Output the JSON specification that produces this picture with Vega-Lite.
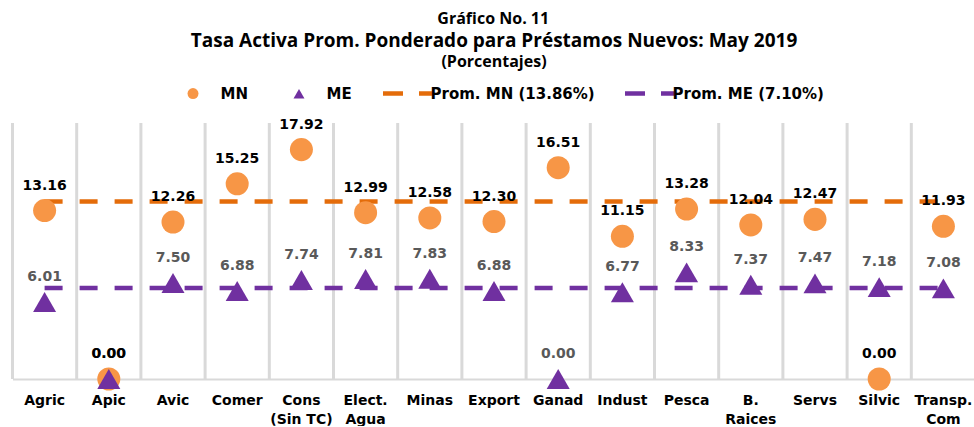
{
  "$schema": "https://vega.github.io/schema/vega-lite/v6.json",
  "background": "white",
  "padding": {"left": 10.5, "top": 10, "right": 0, "bottom": 0},
  "config": {
    "view": {"stroke": null},
    "concat": {"spacing": 0},
    "legend": {"padding": 0}
  },
  "title": {
    "text": "Gráfico No. 11",
    "font": "Open Sans",
    "fontSize": 16,
    "fontWeight": "bold",
    "color": "#000000",
    "anchor": "middle",
    "offset": 5
  },
  "datasets": {
    "puntos": [
      {"sector": "Agric", "serie": "MN", "valor": 13.16},
      {"sector": "Apic", "serie": "MN", "valor": 0.0},
      {"sector": "Avic", "serie": "MN", "valor": 12.26},
      {"sector": "Comer", "serie": "MN", "valor": 15.25},
      {"sector": "Cons (Sin TC)", "serie": "MN", "valor": 17.92},
      {"sector": "Elect. Agua", "serie": "MN", "valor": 12.99},
      {"sector": "Minas", "serie": "MN", "valor": 12.58},
      {"sector": "Export", "serie": "MN", "valor": 12.3},
      {"sector": "Ganad", "serie": "MN", "valor": 16.51},
      {"sector": "Indust", "serie": "MN", "valor": 11.15},
      {"sector": "Pesca", "serie": "MN", "valor": 13.28},
      {"sector": "B. Raices", "serie": "MN", "valor": 12.04},
      {"sector": "Servs", "serie": "MN", "valor": 12.47},
      {"sector": "Silvic", "serie": "MN", "valor": 0.0},
      {"sector": "Transp. Com", "serie": "MN", "valor": 11.93},
      {"sector": "Agric", "serie": "ME", "valor": 6.01},
      {"sector": "Apic", "serie": "ME", "valor": 0.0},
      {"sector": "Avic", "serie": "ME", "valor": 7.5},
      {"sector": "Comer", "serie": "ME", "valor": 6.88},
      {"sector": "Cons (Sin TC)", "serie": "ME", "valor": 7.74},
      {"sector": "Elect. Agua", "serie": "ME", "valor": 7.81},
      {"sector": "Minas", "serie": "ME", "valor": 7.83},
      {"sector": "Export", "serie": "ME", "valor": 6.88},
      {"sector": "Ganad", "serie": "ME", "valor": 0.0},
      {"sector": "Indust", "serie": "ME", "valor": 6.77},
      {"sector": "Pesca", "serie": "ME", "valor": 8.33},
      {"sector": "B. Raices", "serie": "ME", "valor": 7.37},
      {"sector": "Servs", "serie": "ME", "valor": 7.47},
      {"sector": "Silvic", "serie": "ME", "valor": 7.18},
      {"sector": "Transp. Com", "serie": "ME", "valor": 7.08}
    ],
    "promedios": [
      {"sector": "Agric", "serie": "Prom. MN (13.86%)", "valor": 13.86},
      {"sector": "Apic", "serie": "Prom. MN (13.86%)", "valor": 13.86},
      {"sector": "Avic", "serie": "Prom. MN (13.86%)", "valor": 13.86},
      {"sector": "Comer", "serie": "Prom. MN (13.86%)", "valor": 13.86},
      {"sector": "Cons (Sin TC)", "serie": "Prom. MN (13.86%)", "valor": 13.86},
      {"sector": "Elect. Agua", "serie": "Prom. MN (13.86%)", "valor": 13.86},
      {"sector": "Minas", "serie": "Prom. MN (13.86%)", "valor": 13.86},
      {"sector": "Export", "serie": "Prom. MN (13.86%)", "valor": 13.86},
      {"sector": "Ganad", "serie": "Prom. MN (13.86%)", "valor": 13.86},
      {"sector": "Indust", "serie": "Prom. MN (13.86%)", "valor": 13.86},
      {"sector": "Pesca", "serie": "Prom. MN (13.86%)", "valor": 13.86},
      {"sector": "B. Raices", "serie": "Prom. MN (13.86%)", "valor": 13.86},
      {"sector": "Servs", "serie": "Prom. MN (13.86%)", "valor": 13.86},
      {"sector": "Silvic", "serie": "Prom. MN (13.86%)", "valor": 13.86},
      {"sector": "Transp. Com", "serie": "Prom. MN (13.86%)", "valor": 13.86},
      {"sector": "Agric", "serie": "Prom. ME (7.10%)", "valor": 7.1},
      {"sector": "Apic", "serie": "Prom. ME (7.10%)", "valor": 7.1},
      {"sector": "Avic", "serie": "Prom. ME (7.10%)", "valor": 7.1},
      {"sector": "Comer", "serie": "Prom. ME (7.10%)", "valor": 7.1},
      {"sector": "Cons (Sin TC)", "serie": "Prom. ME (7.10%)", "valor": 7.1},
      {"sector": "Elect. Agua", "serie": "Prom. ME (7.10%)", "valor": 7.1},
      {"sector": "Minas", "serie": "Prom. ME (7.10%)", "valor": 7.1},
      {"sector": "Export", "serie": "Prom. ME (7.10%)", "valor": 7.1},
      {"sector": "Ganad", "serie": "Prom. ME (7.10%)", "valor": 7.1},
      {"sector": "Indust", "serie": "Prom. ME (7.10%)", "valor": 7.1},
      {"sector": "Pesca", "serie": "Prom. ME (7.10%)", "valor": 7.1},
      {"sector": "B. Raices", "serie": "Prom. ME (7.10%)", "valor": 7.1},
      {"sector": "Servs", "serie": "Prom. ME (7.10%)", "valor": 7.1},
      {"sector": "Silvic", "serie": "Prom. ME (7.10%)", "valor": 7.1},
      {"sector": "Transp. Com", "serie": "Prom. ME (7.10%)", "valor": 7.1}
    ]
  },
  "vconcat": [
    {
      "width": 963,
      "height": 256,
      "title": {
        "text": "Tasa Activa Prom. Ponderado para Préstamos Nuevos: May 2019",
        "subtitle": "(Porcentajes)",
        "font": "Open Sans",
        "fontSize": 19,
        "fontWeight": "bold",
        "color": "#000000",
        "subtitleFont": "Open Sans",
        "subtitleFontSize": 16,
        "subtitleFontWeight": "bold",
        "subtitleColor": "#000000",
        "subtitlePadding": 3,
        "anchor": "middle",
        "offset": 48
      },
      "encoding": {
        "x": {
          "field": "sector",
          "type": "nominal",
          "sort": ["Agric", "Apic", "Avic", "Comer", "Cons (Sin TC)", "Elect. Agua", "Minas", "Export", "Ganad", "Indust", "Pesca", "B. Raices", "Servs", "Silvic", "Transp. Com"],
          "scale": {"paddingInner": 0, "paddingOuter": 0},
          "axis": {
            "title": null,
            "labelAngle": 0,
            "ticks": false,
            "grid": false,
            "domainColor": "#D9D9D9",
            "domainWidth": 2,
            "labelFont": "DejaVu Sans",
            "labelFontSize": 14,
            "labelFontWeight": "bold",
            "labelColor": "#000000",
            "labelPadding": 14,
            "labelLineHeight": 19,
            "labelExpr": "datum.value == 'Cons (Sin TC)' ? ['Cons', '(Sin TC)'] : split(datum.value, ' ')"
          }
        }
      },
      "layer": [
        {
          "data": {"name": "promedios"},
          "transform": [{"filter": "datum.serie == 'Prom. MN (13.86%)'"}],
          "mark": {"type": "rule", "color": "#D9D9D9", "strokeWidth": 3},
          "encoding": {
            "x": {"field": "sector", "type": "nominal", "bandPosition": 0},
            "y": {"datum": 0, "type": "quantitative", "scale": {"domain": [0, 20]}, "axis": null},
            "y2": {"datum": 20}
          }
        },
        {
          "data": {"name": "promedios"},
          "mark": {"type": "line", "strokeWidth": 4.5, "strokeDash": [18, 17]},
          "encoding": {
            "y": {"field": "valor", "type": "quantitative", "scale": {"domain": [0, 20]}, "axis": null},
            "stroke": {
              "field": "serie",
              "type": "nominal",
              "scale": {"domain": ["Prom. MN (13.86%)", "Prom. ME (7.10%)"], "range": ["#E46C0A", "#7030A0"]},
              "legend": {
                "title": null,
                "orient": "none",
                "legendX": 368,
                "legendY": -56.5,
                "direction": "horizontal",
                "columns": 2,
                "columnPadding": 20,
                "symbolType": "stroke",
                "symbolSize": 2401,
                "symbolStrokeWidth": 4.5,
                "symbolDash": [20, 16],
                "labelOffset": -4,
                "labelLimit": 400,
                "labelFont": "DejaVu Sans",
                "labelFontSize": 15,
                "labelFontWeight": "bold",
                "labelColor": "#000000"
              }
            }
          }
        },
        {
          "data": {"name": "puntos"},
          "mark": {"type": "point", "filled": true, "opacity": 1, "size": 530},
          "encoding": {
            "y": {"field": "valor", "type": "quantitative", "scale": {"domain": [0, 20]}, "axis": null},
            "fill": {
              "field": "serie",
              "type": "nominal",
              "scale": {"domain": ["MN", "ME"], "range": ["#F79646", "#7030A0"]},
              "legend": {
                "title": null,
                "orient": "none",
                "legendX": 173,
                "legendY": -37,
                "direction": "horizontal",
                "columns": 2,
                "columnPadding": 42,
                "symbolSize": 120,
                "labelOffset": 20,
                "labelLimit": 200,
                "labelFont": "DejaVu Sans",
                "labelFontSize": 15,
                "labelFontWeight": "bold",
                "labelColor": "#000000"
              }
            },
            "shape": {
              "field": "serie",
              "type": "nominal",
              "scale": {"domain": ["MN", "ME"], "range": ["circle", "triangle-up"]}
            }
          }
        },
        {
          "data": {"name": "puntos"},
          "transform": [{"filter": "datum.serie == 'ME'"}],
          "mark": {"type": "text", "font": "DejaVu Sans", "fontSize": 14, "fontWeight": "bold", "color": "#595959", "baseline": "middle", "dy": -25},
          "encoding": {
            "y": {"field": "valor", "type": "quantitative", "scale": {"domain": [0, 20]}, "axis": null},
            "text": {"field": "valor", "type": "quantitative", "format": ".2f"}
          }
        },
        {
          "data": {"name": "puntos"},
          "transform": [{"filter": "datum.serie == 'MN'"}],
          "mark": {"type": "text", "font": "DejaVu Sans", "fontSize": 14, "fontWeight": "bold", "color": "#000000", "baseline": "middle", "dy": -25},
          "encoding": {
            "y": {"field": "valor", "type": "quantitative", "scale": {"domain": [0, 20]}, "axis": null},
            "text": {"field": "valor", "type": "quantitative", "format": ".2f"}
          }
        }
      ]
    }
  ]
}
